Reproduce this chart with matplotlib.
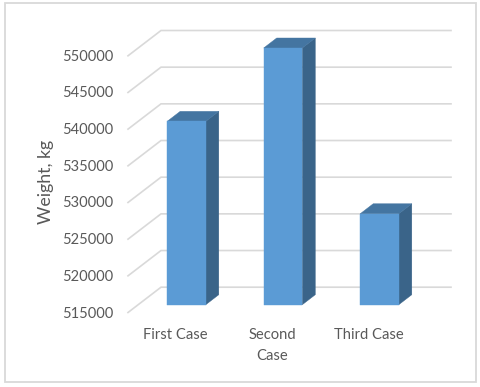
import matplotlib
matplotlib.use("Agg")
import matplotlib.pyplot as plt
from matplotlib.patches import Polygon, Rectangle

categories = ["First Case", "Second\nCase", "Third Case"]
weights = [540000, 550000, 527400]
y_ticks = [515000, 520000, 525000, 530000, 535000, 540000, 545000, 550000]

plt.rcParams['font.family'] = ['Lato', 'DejaVu Sans']

W, H = 480, 387
fig = plt.figure(figsize=(W / 100, H / 100), dpi=100)
ax = fig.add_axes([0, 0, 1, 1])

# scale of the front plane of the bars, in pixels of the picture
px_x = 1 / 96.5
px_y = 35000 / 256.7
x0 = 186.5
y_base = 304.7
ax.set_xlim(-x0 * px_x, (W - x0) * px_x)
ax.set_ylim(515000 - (H - y_base) * px_y, 515000 + y_base * px_y)
ax.axis("off")

# outer chart frame
ax.add_patch(Rectangle(((4.5 - x0) * px_x, 515000 + (y_base - 382) * px_y),
                       471.5 * px_x, 379 * px_y,
                       fc="white", ec="#d9d9d9", lw=1.3, zorder=0))

# gridlines: side wall then back wall
wall_front = (128 - x0) * px_x
wall_back = (161 - x0) * px_x
wall_end = (451 - x0) * px_x
for t in y_ticks:
    front_y = t - 7.8 * px_y
    back_y = t + 17.5 * px_y
    ax.plot([wall_front, wall_back, wall_end], [front_y, back_y, back_y],
            color="#d9d9d9", lw=1.2, zorder=1, solid_joinstyle="miter")
    ax.text((113 - x0) * px_x, front_y - 1 * px_y, str(t), ha="right", va="center",
            fontsize=10.5, color="#595959", zorder=5)

# bars with a fake depth
bar_w = 0.4
dx = 13 * px_x
dy = 10 * px_y
for i, v in enumerate(weights):
    left = i - bar_w / 2
    right = i + bar_w / 2
    ax.add_patch(Polygon([(right, 515000), (right + dx, 515000 + dy), (right + dx, v + dy), (right, v)],
                         fc="#3A6489", ec="#3A6489", lw=0.3, zorder=3))
    ax.add_patch(Polygon([(left, v), (right, v), (right + dx, v + dy), (left + dx, v + dy)],
                         fc="#4475A1", ec="#4475A1", lw=0.3, zorder=3))
    ax.add_patch(Rectangle((left, 515000), bar_w, v - 515000,
                           fc="#5B9BD5", ec="#5B9BD5", lw=0.3, zorder=4))
    ax.text(i - 11 * px_x, 515000 - 23 * px_y, categories[i], ha="center", va="top",
            fontsize=10.6, color="#595959", linespacing=1.65, zorder=5)

ax.text((45.5 - x0) * px_x, 515000 + (y_base - 182) * px_y, "Weight, kg", rotation=90,
        ha="center", va="center", fontsize=12.8, color="#595959", zorder=5)

fig.savefig("out.png", dpi=100)
